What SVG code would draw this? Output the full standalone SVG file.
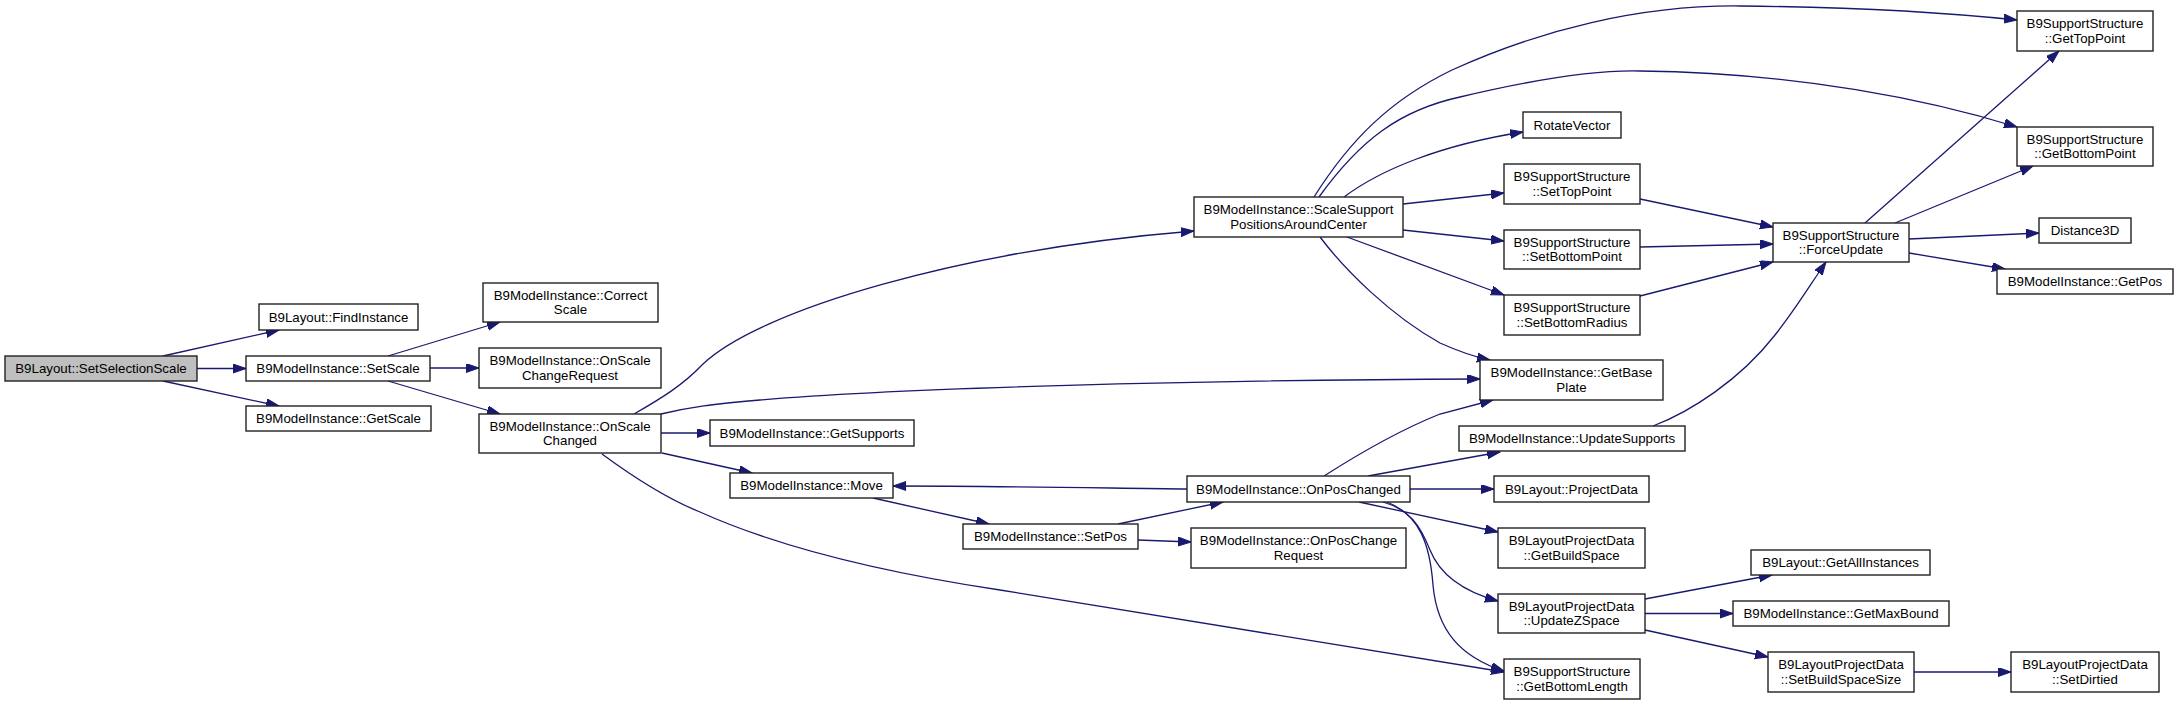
<svg xmlns="http://www.w3.org/2000/svg" width="2179" height="704" viewBox="0 0 2179 704">
<style>
.n rect{fill:#fff;stroke:#222;stroke-width:1.4}
.n.root rect{fill:#bfbfbf}
.n text{font-family:"Liberation Sans",Arial,sans-serif;font-size:13.3px;text-anchor:middle;fill:#000}
#edges path{fill:none;stroke:#191970;stroke-width:1.3;marker-end:url(#arr)}
</style>
<defs>
<marker id="arr" markerUnits="userSpaceOnUse" markerWidth="14" markerHeight="10" refX="13" refY="4.5" orient="auto">
<path d="M0,0 L13,4.5 L0,9 z" fill="#191970" stroke="#191970" stroke-width="1"/>
</marker>
</defs>
<rect width="2179" height="704" fill="#fff"/>
<g id="edges">
<path d="M163,356 L279,330"/>
<path d="M197,368.5 L246,368.5"/>
<path d="M163,381 L279,406"/>
<path d="M388,356 L500,322"/>
<path d="M430,368 L479,368"/>
<path d="M388,381 L500,414"/>
<path d="M634,414 C662,398 683,385 703,364 C760,310 960,250 1194,231"/>
<path d="M661,414 C690,407 713,404 760,400 C900,388 1200,380 1480,379"/>
<path d="M661,433 L710,433"/>
<path d="M662,453 L752,473"/>
<path d="M602,454 C640,482 670,500 700,512 C780,548 880,572 1000,590 L1504,672"/>
<path d="M873,498 L989,524"/>
<path d="M1118,524 L1223,502"/>
<path d="M1138,540 L1191,542"/>
<path d="M1187,489 C1100,488 1000,486 893,486"/>
<path d="M1324,476 C1360,453 1400,430 1440,414 L1493,400"/>
<path d="M1368,476 L1500,452"/>
<path d="M1410,489 L1494,489"/>
<path d="M1359,502 L1498,532"/>
<path d="M1383,502 C1410,510 1420,525 1430,550 C1440,575 1465,592 1498,601"/>
<path d="M1387,502 C1420,515 1430,545 1433,585 C1437,630 1460,657 1504,671"/>
<path d="M1653,426 C1690,412 1740,380 1775,335 C1795,310 1810,285 1826,262"/>
<path d="M1314,197 C1350,140 1390,100 1452,70 C1540,30 1640,5 1740,6 C1850,7 1940,12 2017,20"/>
<path d="M1319,197 C1360,140 1400,110 1460,97 C1540,78 1600,70 1640,71 C1800,73 1930,100 2017,127"/>
<path d="M1344,197 C1380,170 1440,145 1523,132"/>
<path d="M1403,204 L1504,193"/>
<path d="M1403,230 L1504,241"/>
<path d="M1347,237 L1504,295"/>
<path d="M1320,237 C1345,270 1390,315 1440,343 C1460,352 1475,357 1490,360"/>
<path d="M1640,199 L1773,227"/>
<path d="M1640,247 L1773,244"/>
<path d="M1640,296 L1773,262"/>
<path d="M1865,223 L2059,51"/>
<path d="M1895,223 L2033,166"/>
<path d="M1909,239 L2039,233"/>
<path d="M1909,253 L2005,269"/>
<path d="M1645,599 L1772,575"/>
<path d="M1645,613.5 L1733,613.5"/>
<path d="M1645,630 L1768,657"/>
<path d="M1914,672 L2011,672"/>
</g>
<g id="n_SetSelectionScale" class="n root"><rect x="5" y="356" width="192" height="25"/><text x="101" y="373">B9Layout::SetSelectionScale</text></g>
<g id="n_FindInstance" class="n"><rect x="259" y="304" width="159" height="26"/><text x="338.5" y="321.6">B9Layout::FindInstance</text></g>
<g id="n_SetScale" class="n"><rect x="246" y="356" width="184" height="25"/><text x="338" y="373">B9ModelInstance::SetScale</text></g>
<g id="n_GetScale" class="n"><rect x="246" y="406" width="185" height="25"/><text x="338.5" y="423">B9ModelInstance::GetScale</text></g>
<g id="n_CorrectScale" class="n"><rect x="483" y="283" width="175" height="39"/><text x="570.5" y="300">B9ModelInstance::Correct</text><text x="570.5" y="314">Scale</text></g>
<g id="n_OnScaleChangeRequest" class="n"><rect x="479" y="348" width="182" height="40"/><text x="570" y="365.4">B9ModelInstance::OnScale</text><text x="570" y="379.6">ChangeRequest</text></g>
<g id="n_OnScaleChanged" class="n"><rect x="479" y="414" width="182" height="39"/><text x="570" y="431">B9ModelInstance::OnScale</text><text x="570" y="445">Changed</text></g>
<g id="n_GetSupports" class="n"><rect x="710" y="420" width="204" height="26"/><text x="812" y="437.6">B9ModelInstance::GetSupports</text></g>
<g id="n_Move" class="n"><rect x="730" y="473" width="163" height="25"/><text x="811.5" y="490">B9ModelInstance::Move</text></g>
<g id="n_SetPos" class="n"><rect x="963" y="524" width="175" height="25"/><text x="1050.5" y="541">B9ModelInstance::SetPos</text></g>
<g id="n_ScaleSupport" class="n"><rect x="1194" y="197" width="209" height="40"/><text x="1298.5" y="214.4">B9ModelInstance::ScaleSupport</text><text x="1298.5" y="228.6">PositionsAroundCenter</text></g>
<g id="n_GetBasePlate" class="n"><rect x="1480" y="360" width="183" height="40"/><text x="1571.5" y="377.4">B9ModelInstance::GetBase</text><text x="1571.5" y="391.6">Plate</text></g>
<g id="n_UpdateSupports" class="n"><rect x="1459" y="426" width="226" height="25"/><text x="1572" y="443">B9ModelInstance::UpdateSupports</text></g>
<g id="n_OnPosChanged" class="n"><rect x="1187" y="476" width="223" height="26"/><text x="1298.5" y="493.6">B9ModelInstance::OnPosChanged</text></g>
<g id="n_OnPosChangeRequest" class="n"><rect x="1191" y="528" width="215" height="40"/><text x="1298.5" y="545.4">B9ModelInstance::OnPosChange</text><text x="1298.5" y="559.6">Request</text></g>
<g id="n_RotateVector" class="n"><rect x="1523" y="112" width="98" height="26"/><text x="1572" y="129.6">RotateVector</text></g>
<g id="n_SetTopPoint" class="n"><rect x="1504" y="164" width="136" height="40"/><text x="1572" y="181.4">B9SupportStructure</text><text x="1572" y="195.6">::SetTopPoint</text></g>
<g id="n_SetBottomPoint" class="n"><rect x="1504" y="230" width="136" height="39"/><text x="1572" y="247">B9SupportStructure</text><text x="1572" y="261">::SetBottomPoint</text></g>
<g id="n_SetBottomRadius" class="n"><rect x="1504" y="295" width="136" height="40"/><text x="1572" y="312.4">B9SupportStructure</text><text x="1572" y="326.6">::SetBottomRadius</text></g>
<g id="n_ForceUpdate" class="n"><rect x="1773" y="223" width="136" height="39"/><text x="1841" y="240">B9SupportStructure</text><text x="1841" y="254">::ForceUpdate</text></g>
<g id="n_GetTopPoint" class="n"><rect x="2017" y="11" width="136" height="40"/><text x="2085" y="28.4">B9SupportStructure</text><text x="2085" y="42.6">::GetTopPoint</text></g>
<g id="n_GetBottomPoint" class="n"><rect x="2017" y="127" width="136" height="39"/><text x="2085" y="144">B9SupportStructure</text><text x="2085" y="158">::GetBottomPoint</text></g>
<g id="n_Distance3D" class="n"><rect x="2039" y="218" width="92" height="25"/><text x="2085" y="235">Distance3D</text></g>
<g id="n_GetPos" class="n"><rect x="1997" y="269" width="176" height="25"/><text x="2085" y="286">B9ModelInstance::GetPos</text></g>
<g id="n_ProjectData" class="n"><rect x="1494" y="476" width="155" height="26"/><text x="1571.5" y="493.6">B9Layout::ProjectData</text></g>
<g id="n_GetBuildSpace" class="n"><rect x="1498" y="528" width="147" height="40"/><text x="1571.5" y="545.4">B9LayoutProjectData</text><text x="1571.5" y="559.6">::GetBuildSpace</text></g>
<g id="n_UpdateZSpace" class="n"><rect x="1498" y="594" width="147" height="39"/><text x="1571.5" y="611">B9LayoutProjectData</text><text x="1571.5" y="625">::UpdateZSpace</text></g>
<g id="n_GetBottomLength" class="n"><rect x="1504" y="659" width="136" height="40"/><text x="1572" y="676.4">B9SupportStructure</text><text x="1572" y="690.6">::GetBottomLength</text></g>
<g id="n_GetAllInstances" class="n"><rect x="1751" y="550" width="179" height="25"/><text x="1840.5" y="567">B9Layout::GetAllInstances</text></g>
<g id="n_GetMaxBound" class="n"><rect x="1733" y="601" width="216" height="25"/><text x="1841" y="618">B9ModelInstance::GetMaxBound</text></g>
<g id="n_SetBuildSpaceSize" class="n"><rect x="1768" y="652" width="146" height="40"/><text x="1841" y="669.4">B9LayoutProjectData</text><text x="1841" y="683.6">::SetBuildSpaceSize</text></g>
<g id="n_SetDirtied" class="n"><rect x="2011" y="652" width="148" height="40"/><text x="2085" y="669.4">B9LayoutProjectData</text><text x="2085" y="683.6">::SetDirtied</text></g>
</svg>
